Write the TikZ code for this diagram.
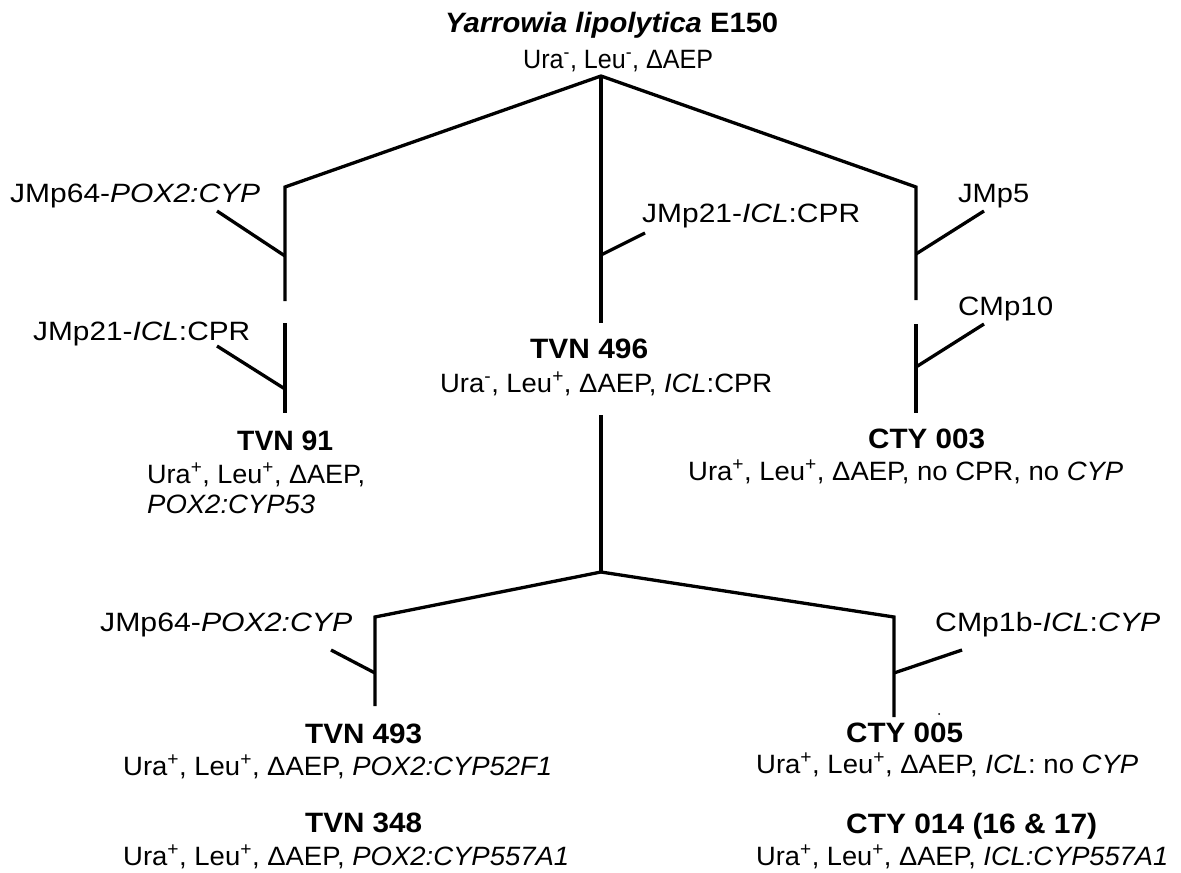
\documentclass[tikz,border=0pt]{standalone}
\usepackage{graphicx}
\usepackage{fontspec}
\setmainfont{Liberation Sans}
\newcommand\fitto[2]{\resizebox{#1pt}{\height}{#2}}
\begin{document}
\begin{tikzpicture}[x=1pt,y=-1pt,
  lbl/.style={inner sep=0pt, anchor=base west, font=\fontsize{26.5}{32}\selectfont},
  strain/.style={lbl, font=\fontsize{28}{32}\selectfont\bfseries},
  branch/.style={line width=3.3pt, line join=miter, line cap=butt}]
\useasboundingbox[fill=white] (0,0) rectangle (1181,873);
% ---- coordinates of the tree ----
\coordinate (A) at (601,76);
\coordinate (L1) at (285,187);
\coordinate (R1) at (916,187);
\coordinate (Cend) at (601,323);
\coordinate (Ctk) at (601,255);
\coordinate (CtkE) at (645,233);
\coordinate (L1a) at (285,301);
\coordinate (L1tk) at (285,256);
\coordinate (L1tkE) at (217,211);
\coordinate (L2s) at (285,323);
\coordinate (L2e) at (285,413);
\coordinate (L2tk) at (285,389);
\coordinate (L2tkE) at (217,346);
\coordinate (R1a) at (916,300);
\coordinate (R1tk) at (916,254);
\coordinate (R1tkE) at (984,211);
\coordinate (R2s) at (916,324);
\coordinate (R2e) at (916,413);
\coordinate (R2tk) at (916,367);
\coordinate (R2tkE) at (984,324);
\coordinate (C2s) at (601,415);
\coordinate (S) at (601,572);
\coordinate (BL) at (375,617);
\coordinate (BLe) at (375,706);
\coordinate (BLtk) at (375,673);
\coordinate (BLtkE) at (331,650);
\coordinate (BR) at (894,617);
\coordinate (BRe) at (894,717);
\coordinate (BRtk) at (894,673);
\coordinate (BRtkE) at (962,650);
% ---- branches ----
\draw[branch] (L1a) -- (L1) -- (A) -- (R1) -- (R1a);
\draw[branch] (A) -- (Cend);
\draw[branch] (Ctk) -- (CtkE);
\draw[branch] (L1tkE) -- (L1tk);
\draw[branch] (L2s) -- (L2e);
\draw[branch] (L2tkE) -- (L2tk);
\draw[branch] (R1tk) -- (R1tkE);
\draw[branch] (R2s) -- (R2e);
\draw[branch] (R2tk) -- (R2tkE);
\draw[branch] (C2s) -- (S);
\draw[branch] (BLe) -- (BL) -- (S) -- (BR) -- (BRe);
\draw[branch] (BLtkE) -- (BLtk);
\draw[branch] (BRtk) -- (BRtkE);
% ---- texts ----
\node[strain] (e150) at (445,32) {\fitto{333}{\textit{Yarrowia lipolytica} E150}};
\node[lbl] (e150g) at (523,68) {\fitto{190}{Ura\textsuperscript{-}, Leu\textsuperscript{-}, ΔAEP}};
\node[lbl] (p64a) at (10,202) {\fitto{250}{JMp64-\textit{POX2:CYP}}};
\node[lbl] (p21a) at (33,340) {\fitto{217}{JMp21-\textit{ICL}:CPR}};
\node[lbl] (p21b) at (642,222) {\fitto{218}{JMp21-\textit{ICL}:CPR}};
\node[lbl] (p5) at (958,202) {\fitto{71}{JMp5}};
\node[lbl] (p10) at (958,315) {\fitto{95}{CMp10}};
\node[strain] (t496) at (530,358) {\fitto{118}{TVN 496}};
\node[lbl] (t496g) at (440,392) {\fitto{332}{Ura\textsuperscript{-}, Leu\textsuperscript{+}, ΔAEP, \textit{ICL}:CPR}};
\node[strain] (t91) at (237,450) {\fitto{96}{TVN 91}};
\node[lbl] (t91g) at (147,483) {\fitto{218}{Ura\textsuperscript{+}, Leu\textsuperscript{+}, ΔAEP,}};
\node[lbl] (t91h) at (147,513) {\fitto{168}{\textit{POX2:CYP53}}};
\node[strain] (c003) at (868,448) {\fitto{117}{CTY 003}};
\node[lbl] (c003g) at (688,480) {\fitto{435}{Ura\textsuperscript{+}, Leu\textsuperscript{+}, ΔAEP, no CPR, no \textit{CYP}}};
\node[lbl] (p64b) at (100,631) {\fitto{252}{JMp64-\textit{POX2:CYP}}};
\node[lbl] (p1b) at (935,631) {\fitto{225}{CMp1b-\textit{ICL}:\textit{CYP}}};
\node[strain] (t493) at (305,743) {\fitto{117}{TVN 493}};
\node[lbl] (t493g) at (123,775) {\fitto{429}{Ura\textsuperscript{+}, Leu\textsuperscript{+}, ΔAEP, \textit{POX2:CYP52F1}}};
\node[strain] (t348) at (305,832) {\fitto{117}{TVN 348}};
\node[lbl] (t348g) at (123,865) {\fitto{446}{Ura\textsuperscript{+}, Leu\textsuperscript{+}, ΔAEP, \textit{POX2:CYP557A1}}};
\node[strain] (c005) at (846,742) {\fitto{117}{CTY 005}};
\node[lbl] (c005g) at (756,773) {\fitto{382}{Ura\textsuperscript{+}, Leu\textsuperscript{+}, ΔAEP, \textit{ICL}: no \textit{CYP}}};
\node[strain] (c014) at (846,833) {\fitto{251}{CTY 014 (16 \& 17)}};
\node[lbl] (c014g) at (756,865) {\fitto{412}{Ura\textsuperscript{+}, Leu\textsuperscript{+}, ΔAEP, \textit{ICL:CYP557A1}}};
\fill (939,714) circle (1pt);
\end{tikzpicture}
\end{document}
